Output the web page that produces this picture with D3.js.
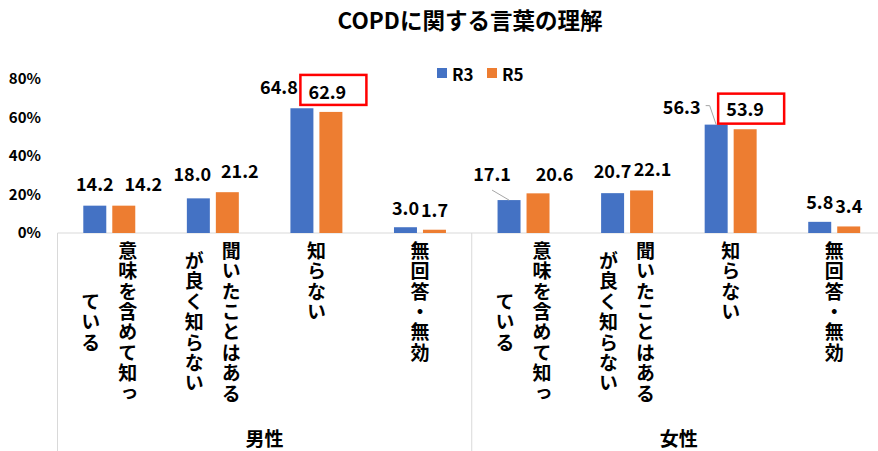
<!DOCTYPE html>
<html>
<head>
<meta charset="utf-8">
<script src="https://cdn.jsdelivr.net/npm/d3@7"></script>
<style>
  body { margin: 0; background: #fff; }
  text { font-family: "Noto Sans CJK JP", "Noto Sans", sans-serif; fill: #000; }
</style>
</head>
<body>
<div id="chart"></div>
<script>
// data
var groups = ["男性", "女性"];
var categories = ["意味を含めて知っ\nている", "聞いたことはある\nが良く知らない", "知らない", "無回答・無効"];
var seriesNames = ["R3", "R5"];
var r3Values = [14.2, 18.0, 64.8, 3.0, 17.1, 20.7, 56.3, 5.8];
var r5Values = [14.2, 21.2, 62.9, 1.7, 20.6, 22.1, 53.9, 3.4];
var yTicks = [0, 20, 40, 60, 80];
var colors = ["#4472C4", "#ED7D31"];

// hand-moved data labels (dx, dy) like in the original sheet
var labelNudge = [
  [[0,-2],[-6,-4],[-23,-1],[0,1],[-17,-6],[0,-2],[-34.5,2],[0,0]],
  [[19.5,-2],[12.5,-1],[-3.5,0],[0,0],[16.5,0.5],[11,-1.5],[0,-0.6],[0,0]]
];
var boxed = [2, 6];  // R5 labels that get the red box

var width = 878, height = 451;
var svg = d3.select("#chart").append("svg")
  .attr("width", width).attr("height", height);

// every bar pair = one group/category
var keys = [];
groups.forEach(function(g) { categories.forEach(function(c) { keys.push(g + "|" + c); }); });

var x0 = d3.scaleBand().domain(keys).range([57.5, 886]).padding(0);
var x1 = d3.scaleBand().domain(seriesNames).range([0, x0.bandwidth()])
  .paddingInner(0.207).paddingOuter(0.89);
var y = d3.scaleLinear().domain([0, 80]).range([233, 79]);

// title
svg.append("text")
  .attr("x", 470).attr("y", 29)
  .attr("text-anchor", "middle")
  .style("font-size", "22.5px").style("font-weight", 700)
  .text("COPDに関する言葉の理解");

// y axis (labels only)
var yAxis = svg.append("g")
  .attr("transform", "translate(41,0)")
  .call(d3.axisLeft(y).tickValues(yTicks).tickSize(0).tickFormat(function(d) { return d + "%"; }));
yAxis.select(".domain").remove();
yAxis.selectAll("text")
  .attr("x", 0)
  .style("font-size", "15px").style("font-weight", 700)
  .style("font-family", "'Noto Sans CJK JP', sans-serif");

// baseline + group separators
svg.append("line")
  .attr("x1", x0.range()[0]).attr("x2", width)
  .attr("y1", y(0)).attr("y2", y(0))
  .attr("stroke", "#d9d9d9").attr("stroke-width", 1);
[0, 4, 8].forEach(function(i) {
  var xx = i < 8 ? x0(keys[i]) : x0.range()[1];
  svg.append("line")
    .attr("x1", xx).attr("x2", xx)
    .attr("y1", y(0)).attr("y2", height)
    .attr("stroke", "#d9d9d9").attr("stroke-width", 1);
});

// bars
var seriesData = [r3Values, r5Values];
seriesData.forEach(function(vals, s) {
  svg.append("g").selectAll("rect")
    .data(vals)
    .enter().append("rect")
    .attr("x", function(d, i) { return x0(keys[i]) + x1(seriesNames[s]); })
    .attr("y", function(d) { return y(d); })
    .attr("width", x1.bandwidth())
    .attr("height", function(d) { return y(0) - y(d); })
    .attr("fill", colors[s]);
});

// value labels
seriesData.forEach(function(vals, s) {
  vals.forEach(function(d, i) {
    var cx = x0(keys[i]) + x1(seriesNames[s]) + x1.bandwidth() / 2;
    var lx = cx + labelNudge[s][i][0];
    var ly = y(d) - 21 + labelNudge[s][i][1];
    svg.append("text")
      .attr("x", lx).attr("y", ly)
      .attr("text-anchor", "middle")
      .attr("dominant-baseline", "central")
      .style("font-size", "18px").style("font-weight", 700)
      .text(d.toFixed(1));
    if (s === 1 && boxed.indexOf(i) >= 0) {
      var top = i < 4 ? -16 : -14;
      svg.append("rect")
        .attr("x", lx - 27).attr("y", ly + top)
        .attr("width", 66).attr("height", 30)
        .attr("fill", "none").attr("stroke", "#ff0000").attr("stroke-width", 2.5);
    }
    // leader lines
    if (s === 0 && (i === 4 || i === 6)) {
      var pts = i === 4
        ? [[lx, ly + 17], [cx, y(d)]]
        : [[lx + 24, ly], [lx + 28, ly], [cx, y(d)]];
      svg.append("path")
        .attr("d", d3.line()(pts))
        .attr("fill", "none").attr("stroke", "#a6a6a6").attr("stroke-width", 1);
    }
  });
});

// vertical category labels
var charPitch = 20.4, colGap = 37, labelTop = 241;
keys.forEach(function(k) {
  var lines = k.split("|")[1].split("\n");
  var cx = x0(k) + x0.bandwidth() / 2;
  var maxLen = d3.max(lines, function(l) { return l.length; });
  lines.forEach(function(line, j) {
    var colX = cx + (lines.length - 1) * colGap / 2 - j * colGap;
    svg.append("text")
      .attr("x", colX)
      .attr("y", labelTop + maxLen * charPitch / 2)
      .attr("text-anchor", "middle")
      .style("writing-mode", "vertical-rl")
      .style("font-size", "19px").style("font-weight", 700)
      .style("letter-spacing", "1.4px")
      .text(line);
  });
});

// group labels
groups.forEach(function(g, gi) {
  var a = x0(keys[gi * 4]), b = gi === 0 ? x0(keys[4]) : x0.range()[1];
  svg.append("text")
    .attr("x", (a + b) / 2).attr("y", 437)
    .attr("text-anchor", "middle").attr("dominant-baseline", "central")
    .style("font-size", "19px").style("font-weight", 700)
    .text(g);
});

// legend
var legend = svg.append("g");
seriesNames.forEach(function(n, i) {
  var lx = 437 + i * 50;
  legend.append("rect")
    .attr("x", lx).attr("y", 68).attr("width", 10).attr("height", 10)
    .attr("fill", colors[i]);
  legend.append("text")
    .attr("x", lx + 15).attr("y", 73)
    .attr("dominant-baseline", "central")
    .style("font-size", "17px").style("font-weight", 700)
    .text(n);
});
</script>
</body>
</html>
